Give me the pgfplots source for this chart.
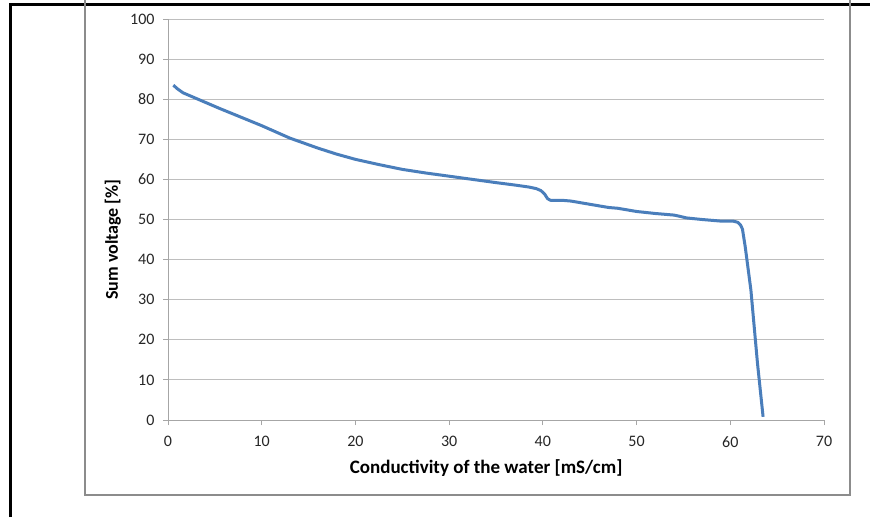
\documentclass[border=0pt]{standalone}
\usepackage{pgfplots}
\pgfplotsset{compat=1.18}
\usepackage{fontspec}
\setmainfont{Carlito}
\definecolor{lineblue}{HTML}{4A7EBB}
\definecolor{gridgray}{HTML}{BEBEBE}
\definecolor{axisgray}{HTML}{A6A6A6}
\begin{document}
\begin{tikzpicture}[x=1pt,y=1pt]
\useasboundingbox (0,-517) rectangle (870,0);
\fill[white] (0,-517) rectangle (870,0);
\draw[black, line width=3pt] (10,-517) -- (10,-4) -- (870,-4);
\draw[black!45, line width=1.5pt] (85,1) -- (85,-495) -- (850,-495) -- (850,1);
\begin{axis}[
  at={(168pt,-420pt)}, anchor=south west,
  scale only axis, width=656pt, height=401pt,
  xmin=0, xmax=70, ymin=0, ymax=100,
  xtick={0,10,...,70}, ytick={0,10,...,100},
  axis x line*=bottom, axis y line*=left,
  axis line style={axisgray, line width=1pt},
  ymajorgrids, grid style={gridgray, line width=1pt},
  tick style={axisgray, line width=1pt},
  tick align=outside, major tick length=5pt,
  /pgf/number format/assume math mode=true,
  tick label style={font=\fontsize{16}{16}\selectfont, text=black!85},
  xticklabel style={yshift=-8pt},
  yticklabel style={xshift=-5pt},
  label style={font=\fontsize{18}{18}\selectfont\bfseries},
  xlabel={Conductivity of the water [mS/cm]},
  ylabel={Sum voltage [\%]},
  xlabel style={font=\fontsize{19}{19}\selectfont\bfseries,
    at={(axis description cs:0.485,-0.12)}, anchor=center},
  ylabel style={at={(axis description cs:-0.084,0.45)}, anchor=center},
]
\addplot[lineblue, line width=3pt, line join=round] coordinates {
(0.57,83.5) (1.0,82.6) (1.6,81.6) (2.4,80.8) (3.4,79.8) (5.5,77.7) (7.7,75.6)
(10,73.4) (13,70.3) (16,67.8) (18,66.3) (20,65.0) (22.5,63.7) (25,62.5)
(27.5,61.6) (30,60.8) (32.5,60.0) (35,59.2) (37,58.6) (38.5,58.1) (39.3,57.7)
(39.8,57.2) (40.2,56.3) (40.5,55.2) (40.8,54.8) (42,54.8) (43,54.6) (44,54.2)
(45,53.8) (46,53.4) (47,53.0) (48,52.8) (49,52.4) (50,52.0) (52,51.5)
(54,51.1) (54.6,50.8) (55.3,50.4) (57,50.0) (59,49.6) (60.3,49.6) (60.8,49.3)
(61.1,48.6) (61.3,47.6) (61.6,43.1) (62.2,32.4) (62.9,14.2) (63.5,0.8)
};
\end{axis}
\end{tikzpicture}
\end{document}
